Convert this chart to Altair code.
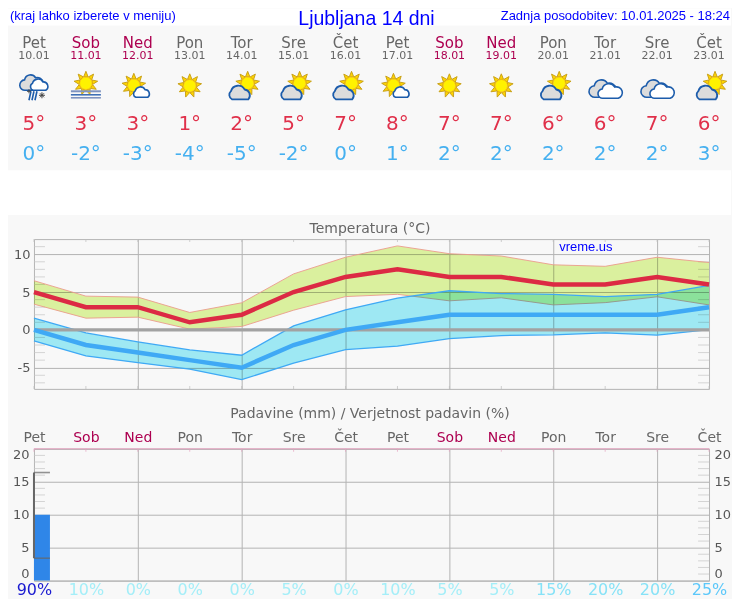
import json
import math
import altair as alt
import pandas as pd

days = ["Pet", "Sob", "Ned", "Pon", "Tor", "Sre", "Čet", "Pet", "Sob", "Ned", "Pon", "Tor", "Sre", "Čet"]
dates = ["10.01", "11.01", "12.01", "13.01", "14.01", "15.01", "16.01", "17.01", "18.01", "19.01", "20.01", "21.01", "22.01", "23.01"]
icons = ["snow", "fog", "small", "sun", "partly", "partly", "partly", "small", "sun", "sun", "partly", "double", "double", "partly"]
tmax = [5, 3, 3, 1, 2, 5, 7, 8, 7, 7, 6, 6, 7, 6]
tmin = [0, -2, -3, -4, -5, -2, 0, 1, 2, 2, 2, 2, 2, 3]
tmax_hi = [6.5, 4.46, 4.33, 2.3, 3.58, 7.4, 9.6, 11.1, 10.07, 9.76, 8.6, 8.4, 9.6, 8.9]
tmax_lo = [3.4, 1.55, 1.68, 0.1, 0.44, 2.6, 4.4, 4.7, 3.84, 4.24, 3.3, 3.6, 4.37, 3.3]
tmin_hi = [1.55, -0.4, -1.6, -2.65, -3.35, 0.53, 2.65, 4.2, 5.17, 4.8, 4.68, 4.4, 4.7, 5.87]
tmin_lo = [-1.46, -3.44, -4.33, -5.2, -6.58, -4.4, -2.6, -2.16, -1.15, -0.75, -0.66, -0.4, -0.7, 0.04]
precip = [10, 0, 0, 0, 0, 0, 0, 0, 0, 0, 0, 0, 0, 0]
precip_hi = [16.4, 0, 0, 0, 0, 0, 0, 0, 0, 0, 0, 0, 0, 0]
precip_lo = [3.4, 0, 0, 0, 0, 0, 0, 0, 0, 0, 0, 0, 0, 0]
probability = [90, 10, 0, 0, 0, 5, 0, 10, 5, 5, 15, 20, 20, 25]
temp_labels = [-5, 0, 5, 10]
temp_minor = [-7, -6, -4, -3, -2, -1, 1, 2, 3, 4, 6, 7, 8, 9, 11]
rain_labels = [0, 5, 10, 15, 20]
rain_minor = [1, 2, 3, 4, 6, 7, 8, 9, 11, 12, 13, 14, 16, 17, 18, 19]
grid_days = [2, 4, 6, 8, 10, 12]

df = pd.DataFrame({
    "i": range(14), "day": days, "date": dates, "icon": icons,
    "tmax": tmax, "tmin": tmin, "tmax_hi": tmax_hi, "tmax_lo": tmax_lo,
    "tmin_hi": tmin_hi, "tmin_lo": tmin_lo, "precip": precip,
    "precip_hi": precip_hi, "precip_lo": precip_lo,
})
df["weekend"] = df["day"].isin(["Sob", "Ned"])
df["tmax_txt"] = [f"{v}°" for v in tmax]
df["tmin_txt"] = [f"{v}°" for v in tmin]

FONT = "DejaVu Sans"
ARIAL = "Liberation Sans"
GRAY = "#666666"
WEEKEND = "#ad0050"
GRID = "#b4b4b4"
PINK = "#e6a3c0"
BG = "#f8f8f8"
W = 676
RIGHT = 698  # right edge of the canvas in panel pixels (page body is 724 wide)
x_scale = alt.Scale(domain=[0, 13], nice=False, zero=False, padding=0)


def X(axis=None, field="i"):
    return alt.X(f"{field}:Q", scale=x_scale, axis=axis, title=None)


def px(v):
    return f"{v / 20:.3f}"


def sun_rays(cx, cy, r0=6.5, r1=12, n=9, half=2.2, start=-90):
    out = []
    for k in range(n):
        a = math.radians(start + 360 * k / n)
        ca, sa = math.cos(a), math.sin(a)
        out.append(
            f"M{px(cx + r0 * ca - half * sa)} {px(cy + r0 * sa + half * ca)}"
            f"L{px(cx + r1 * ca)} {px(cy + r1 * sa)}"
            f"L{px(cx + r0 * ca + half * sa)} {px(cy + r0 * sa - half * ca)}Z"
        )
    return "".join(out)


def disc(cx, cy, r=6.2):
    return (f"M{px(cx - r)} {px(cy)}A{px(r)} {px(r)} 0 1 1 {px(cx + r)} {px(cy)}"
            f"A{px(r)} {px(r)} 0 1 1 {px(cx - r)} {px(cy)}Z")


def cloud(x0, x1, y0, y1):
    w, h = x1 - x0, y1 - y0
    X_ = lambda u: px(x0 + u * w)
    Y_ = lambda v: px(y0 + v * h)
    r1, r2, r3 = px(0.2 * w), px(0.3 * w), px(0.24 * w)
    return (f"M{X_(0.17)} {Y_(1)}A{r1} {r1} 0 0 1 {X_(0.13)} {Y_(0.42)}"
            f"A{r2} {r2} 0 0 1 {X_(0.68)} {Y_(0.3)}"
            f"A{r3} {r3} 0 0 1 {X_(0.83)} {Y_(1)}Z")


def hline(x0, x1, y):
    return f"M{px(x0)} {px(y)}L{px(x1)} {px(y)}"


SUN_F, SUN_S = "#ffd400", "#c9a21a"
DISC_F, DISC_S = "#fff200", "#f5b000"
CLOUD_S = "#1c5cab"
CLOUD_G = "#dcdcdc"

icon_parts = {
    "sun": [(sun_rays(0, -1.5), SUN_F, SUN_S, 1), (disc(0, -1.5), DISC_F, DISC_S, 0.7)],
    "small": [
        (sun_rays(-4, -2), SUN_F, SUN_S, 1), (disc(-4, -2), DISC_F, DISC_S, 0.7),
        (cloud(-5, 13, -1, 10), "#ffffff", CLOUD_S, 1.6),
    ],
    "partly": [
        (sun_rays(6, -4), SUN_F, SUN_S, 1), (disc(6, -4), DISC_F, DISC_S, 0.7),
        (cloud(-14, 11, -2, 12), CLOUD_G, CLOUD_S, 1.8),
    ],
    "double": [
        (cloud(-14, 10, -10, 10), CLOUD_G, CLOUD_S, 1.6),
        (cloud(-6, 17, -5, 11), "#ffffff", CLOUD_S, 1.6),
    ],
    "snow": [
        (cloud(-12, 8, -15, 3), CLOUD_G, CLOUD_S, 1.6),
        (cloud(-4, 15, -9, 3), "#ffffff", CLOUD_S, 1.6),
        (f"M{px(-3)} {px(4)}L{px(-5)} {px(13)}M{px(0)} {px(4)}L{px(-2)} {px(13)}M{px(3)} {px(4)}L{px(1)} {px(13)}",
         "none", CLOUD_S, 1.6),
        (f"M{px(5)} {px(8)}L{px(11)} {px(8)}M{px(8)} {px(5)}L{px(8)} {px(11)}M{px(6)} {px(6)}L{px(10)} {px(10)}M{px(6)} {px(10)}L{px(10)} {px(6)}",
         "none", "#444444", 1),
        (f"M{px(-7)} {px(4)}L{px(-3)} {px(4)}M{px(-5)} {px(2)}L{px(-5)} {px(6)}", "none", "#444444", 1),
    ],
    "fog": [
        (sun_rays(0, -4), SUN_F, SUN_S, 1), (disc(0, -4), DISC_F, DISC_S, 0.7),
        (hline(-15, 15, 4), "none", "#7f93c0", 2),
        (hline(-15, 15, 7.5), "none", "#3f6fb5", 1.6),
        (hline(-15, 15, 10.5), "none", "#7f93c0", 1.6),
    ],
}

header_layers = [
    alt.Chart(pd.DataFrame({"a": [0]})).mark_rect(color="white").encode(
        x=alt.value(-26), x2=alt.value(RIGHT), y=alt.value(0), y2=alt.value(17)),
    alt.Chart(pd.DataFrame({"a": [0]})).mark_rect(color="white").encode(
        x=alt.value(-26), x2=alt.value(RIGHT), y=alt.value(162), y2=alt.value(207)),
]
top_texts = pd.DataFrame({
    "t": ["(kraj lahko izberete v meniju)", "Ljubljana 14 dni", "Zadnja posodobitev: 10.01.2025 - 18:24"],
    "a": [0, 1, 2],
})
for idx, (xpos, align, size, ypos) in enumerate([(-24, "left", 13, 8), (333, "center", 19.5, 11), (697, "right", 13, 8)]):
    header_layers.append(
        alt.Chart(top_texts[top_texts["a"] == idx]).mark_text(
            font=ARIAL, fontSize=size, color="#0000ff", align=align, baseline="middle"
        ).encode(x=alt.value(xpos), y=alt.value(ypos), text="t:N")
    )


def row(field, y, size, color_cond=None, color=None):
    enc = dict(x=X(), y=alt.value(y), text=f"{field}:N")
    if color_cond:
        enc["color"] = alt.condition("datum.weekend", alt.value(WEEKEND), alt.value(GRAY))
    mark = dict(font=FONT, fontSize=size, baseline="middle", align="center")
    if color:
        mark["color"] = color
    return alt.Chart(df).mark_text(**mark).encode(**enc)


header_layers += [
    row("day", 34.5, 15, color_cond=True),
    row("date", 48, 11, color_cond=True),
    row("tmax_txt", 116, 20, color="#e0304a"),
    row("tmin_txt", 146, 20, color="#45b0f0"),
]
for name, parts in icon_parts.items():
    sub = df[df["icon"] == name]
    for path, fill, stroke, sw in parts:
        mk = dict(shape=path, size=1600, stroke=stroke, strokeWidth=sw, opacity=1)
        if fill == "none":
            mk.update(filled=False)
        else:
            mk.update(filled=True, fill=fill)
        header_layers.append(
            alt.Chart(sub).mark_point(**mk).encode(x=X(), y=alt.value(79))
        )

header = alt.layer(*header_layers).properties(
    width=W, height=171, view=alt.ViewBackground(stroke=None))

# Temperature panel
temp_y = alt.Scale(domain=[-7.8, 12], nice=False, zero=False)


def TY(field, axis=None):
    return alt.Y(f"{field}:Q", scale=temp_y, axis=axis, title=None)


def band(hi, lo, fill, line, width):
    return [
        alt.Chart(df).mark_area(color=fill, blend="multiply", opacity=1).encode(
            x=X(), y=TY(hi), y2=alt.Y2(lo)),
        alt.Chart(df).mark_line(color=line, strokeWidth=width).encode(x=X(), y=TY(hi)),
        alt.Chart(df).mark_line(color=line, strokeWidth=width).encode(x=X(), y=TY(lo)),
    ]


def ticks_side(values, yscale, color, day_pos, xoff):
    d = pd.DataFrame({"v": values, "i": day_pos})
    return alt.Chart(d).mark_tick(orient="horizontal", size=11, thickness=1, xOffset=xoff, color=color).encode(
        x=X(), y=alt.Y("v:Q", scale=yscale, axis=None, title=None))


def ticks_edge(y, color, height=3):
    return alt.Chart(df).mark_tick(orient="vertical", size=height, thickness=1, color=color).encode(
        x=X(), y=alt.value(y))


temp_axis_df = pd.DataFrame({"v": temp_labels, "i": 0})
temp_layers = [
    alt.Chart(df).mark_tick(opacity=0, size=0).encode(
        x=X(alt.Axis(values=grid_days, grid=True, gridColor=GRID, labels=False, ticks=False,
                     domain=False, orient="bottom")), y=TY("tmax")),
    alt.Chart(temp_axis_df).mark_tick(opacity=0, size=0).encode(
        x=X(),
        y=TY("v", alt.Axis(values=temp_labels, grid=True, gridColor=GRID, domain=False, ticks=False,
                           labelFont=FONT, labelFontSize=13, labelColor="#555555", labelPadding=4,
                           labelExpr="'' + datum.value", orient="left"))),
    ticks_side(temp_minor, temp_y, "#c4c4c4", 0, 5.5),
    ticks_side(temp_minor, temp_y, "#c4c4c4", 13, -5.5),
    ticks_edge(1.5, "#bdbdbd"),
    ticks_edge(148.5, "#bdbdbd"),
]
temp_layers += band("tmax_hi", "tmax_lo", "#e1f7a3", "#eb9c8c", 0.9)
temp_layers += band("tmin_hi", "tmin_lo", "#a3effa", "#3fa9f5", 1.3)
temp_layers += [
    alt.Chart(pd.DataFrame({"v": [0]})).mark_rule(color="#a2a2a2", strokeWidth=3.5).encode(
        y=TY("v")),
    alt.Chart(df).mark_line(color="#dc2a44", strokeWidth=4.5).encode(x=X(), y=TY("tmax")),
    alt.Chart(df).mark_line(color="#3fa9f5", strokeWidth=4.5).encode(x=X(), y=TY("tmin")),
    alt.Chart(pd.DataFrame({"t": ["vreme.us"]})).mark_text(
        font=ARIAL, fontSize=13, color="#0000ff", align="left", baseline="middle"
    ).encode(x=alt.value(526), y=alt.value(8), text="t:N"),
    alt.Chart(pd.DataFrame({"t": ["Temperatura (°C)"]})).mark_text(
        font=FONT, fontSize=14, color=GRAY, align="center", baseline="middle"
    ).encode(x=alt.value(336.5), y=alt.value(-10), text="t:N"),
]
temp = alt.layer(*temp_layers).resolve_axis(x="independent", y="independent").properties(
    width=W, height=150, view=alt.ViewBackground(stroke=GRID))

# Precipitation panel
rain_y = alt.Scale(domain=[0, 20], nice=False, zero=True)


def RY(field, axis=None):
    return alt.Y(f"{field}:Q", scale=rain_y, axis=axis, title=None)


pj = json.dumps(probability)
day_expr = json.dumps(days, ensure_ascii=False) + "[datum.value]"
weekend_color = f"(datum.value==1||datum.value==2||datum.value==8||datum.value==9)?'{WEEKEND}':'{GRAY}'"
p = f"{pj}[datum.value]"
prob_color = f"{p}>=50?'#1a1ad0':{p}>=25?'#5cc8fa':{p}>=15?'#86e2f7':'#a4eef8'"
err = df[df["precip_hi"] > 0]
rain_axis_df = pd.DataFrame({"v": rain_labels, "i": 0})

rain_layers = [
    alt.Chart(df).mark_tick(opacity=0, size=0).encode(
        x=X(alt.Axis(values=grid_days, grid=True, gridColor=GRID, labels=False, ticks=False,
                     domain=False, orient="bottom")), y=RY("precip")),
    alt.Chart(df).mark_tick(opacity=0, size=0).encode(
        x=X(alt.Axis(values=list(range(14)), grid=False, ticks=False, domain=False, orient="top",
                     labelExpr=day_expr, labelColor=alt.expr(weekend_color), labelFont=FONT,
                     labelFontSize=14, labelPadding=4, labelOverlap=False, labelFlush=False)), y=RY("precip")),
    alt.Chart(df).mark_tick(opacity=0, size=0).encode(
        x=X(alt.Axis(values=list(range(14)), grid=False, ticks=False, domain=False, orient="bottom",
                     labelExpr=p + "+'%'", labelColor=alt.expr(prob_color), labelFont=FONT,
                     labelFontSize=16, labelPadding=1, labelOverlap=False, labelFlush=False)), y=RY("precip")),
    alt.Chart(rain_axis_df).mark_tick(opacity=0, size=0).encode(
        x=X(),
        y=RY("v", alt.Axis(values=rain_labels, grid=True, gridColor=GRID, domain=False, ticks=False,
                           labelFont=FONT, labelFontSize=13, labelColor="#555555", labelPadding=5,
                           labelFlush=True, format="d", orient="left"))),
    alt.Chart(rain_axis_df).mark_tick(opacity=0, size=0).encode(
        x=X(),
        y=RY("v", alt.Axis(values=rain_labels, grid=False, domain=False, ticks=False,
                           labelFont=FONT, labelFontSize=13, labelColor="#555555", labelPadding=5,
                           labelFlush=True, format="d", orient="right"))),
    ticks_side(rain_minor, rain_y, "#c4c4c4", 0, 5.5),
    ticks_side(rain_minor, rain_y, "#c4c4c4", 13, -5.5),
    alt.Chart(df).mark_bar(width=16, xOffset=8, color="#2f86e8", orient="vertical").encode(
        x=X(), y=RY("precip")),
    alt.Chart(err).mark_rule(color="#666666", strokeWidth=2).encode(
        x=X(), y=RY("precip_lo"), y2=alt.Y2("precip_hi")),
    alt.Chart(err).mark_tick(orient="horizontal", size=16, thickness=1.6, xOffset=8, color="#666666").encode(
        x=X(), y=RY("precip_hi")),
    alt.Chart(err).mark_tick(orient="horizontal", size=16, thickness=1.6, xOffset=8, color="#666666").encode(
        x=X(), y=RY("precip_lo")),
    alt.Chart(pd.DataFrame({"a": [0]})).mark_rule(color=PINK, strokeWidth=1).encode(
        x=alt.value(0), x2=alt.value(W), y=alt.value(0)),
    ticks_edge(1.5, PINK),
    alt.Chart(pd.DataFrame({"t": ["Padavine (mm) / Verjetnost padavin (%)"]})).mark_text(
        font=FONT, fontSize=14, color=GRAY, align="center", baseline="middle"
    ).encode(x=alt.value(336.5), y=alt.value(-34.5), text="t:N"),
]
rain = alt.layer(*rain_layers).resolve_axis(x="independent", y="independent").properties(
    width=W, height=132, view=alt.ViewBackground(stroke=GRID))

chart = alt.vconcat(header, temp, rain, spacing=60, bounds="flush").properties(
    background=BG, padding=0
).configure_view(strokeWidth=1)

chart.save("out.html", embed_options={"renderer": "svg", "actions": False})
